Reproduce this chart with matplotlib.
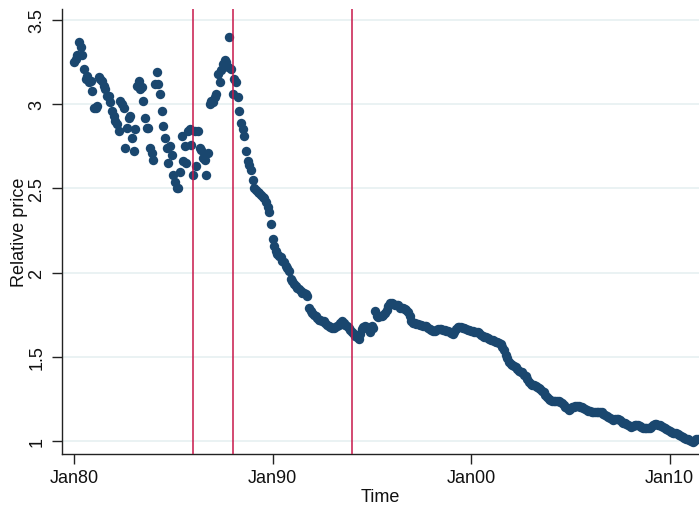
import numpy as np
import matplotlib
matplotlib.use("Agg")
import matplotlib.pyplot as plt

# Monthly relative price, Jan 1980 onwards
rel_price_1980s = [
    3.25, 3.27, 3.29, 3.37, 3.34, 3.29, 3.21, 3.15, 3.17, 3.13, 3.14, 3.08,
    2.98, 2.98, 2.99, 3.16, 3.15, 3.14, 3.11, 3.09, 3.05, 3.05, 3.01, 2.96,
    2.93, 2.90, 2.88, 2.84, 3.02, 3.00, 2.98, 2.74, 2.86, 2.92, 2.93, 2.80,
    2.72, 2.85, 3.11, 3.14, 3.09, 3.10, 3.02, 2.92, 2.86, 2.86, 2.74, 2.71,
    2.67, 3.12, 3.19, 3.12, 3.06, 2.96, 2.87, 2.80, 2.74, 2.65, 2.75, 2.70,
    2.58, 2.54, 2.50, 2.50, 2.60, 2.81, 2.66, 2.75, 2.65, 2.84, 2.85, 2.76,
    2.58, 2.84, 2.63, 2.84, 2.74, 2.73, 2.68, 2.67, 2.58, 2.71, 3.00, 3.02,
    3.01, 3.04, 3.06, 3.18, 3.13, 3.20, 3.24, 3.26, 3.25, 3.22, 3.40, 3.21,
    3.06, 3.15, 3.13, 3.04, 2.96, 2.89, 2.85, 2.81, 2.72, 2.66, 2.64, 2.61,
    2.55, 2.50, 2.49, 2.48, 2.47, 2.46, 2.45, 2.44, 2.42, 2.39, 2.36, 2.29,
]
rel_price_1990s = [
    2.20, 2.16, 2.13, 2.11, 2.10, 2.09, 2.07, 2.06, 2.04, 2.03, 2.01, 1.96,
    1.95, 1.93, 1.92, 1.91, 1.90, 1.89, 1.88, 1.88, 1.87, 1.86, 1.79, 1.77,
    1.76, 1.75, 1.74, 1.73, 1.72, 1.72, 1.71, 1.71, 1.70, 1.69, 1.68, 1.675,
    1.67, 1.67, 1.675, 1.68, 1.69, 1.70, 1.71, 1.70, 1.69, 1.685, 1.67, 1.66,
    1.645, 1.635, 1.625, 1.615, 1.605, 1.635, 1.665, 1.675, 1.68, 1.675, 1.67, 1.645,
    1.68, 1.67, 1.77, 1.74, 1.735, 1.74, 1.745, 1.75, 1.76, 1.78, 1.80, 1.82,
    1.82, 1.815, 1.81, 1.81, 1.805, 1.79, 1.79, 1.79, 1.785, 1.78, 1.765, 1.745,
    1.715, 1.70, 1.70, 1.695, 1.695, 1.69, 1.69, 1.685, 1.685, 1.68, 1.67, 1.665,
    1.66, 1.655, 1.655, 1.66, 1.665, 1.665, 1.665, 1.66, 1.66, 1.655, 1.655, 1.65,
    1.64, 1.635, 1.645, 1.665, 1.675, 1.675, 1.675, 1.67, 1.67, 1.665, 1.66, 1.66,
]
rel_price_2000s = [
    1.655, 1.655, 1.65, 1.645, 1.645, 1.64, 1.63, 1.625, 1.62, 1.615, 1.61, 1.605,
    1.60, 1.60, 1.595, 1.59, 1.585, 1.58, 1.575, 1.56, 1.54, 1.51, 1.49, 1.47,
    1.46, 1.45, 1.445, 1.44, 1.425, 1.415, 1.41, 1.41, 1.39, 1.385, 1.37, 1.35,
    1.34, 1.335, 1.33, 1.325, 1.32, 1.315, 1.31, 1.30, 1.29, 1.275, 1.26, 1.25,
    1.245, 1.24, 1.24, 1.24, 1.235, 1.235, 1.23, 1.225, 1.215, 1.205, 1.195, 1.185,
    1.19, 1.20, 1.205, 1.21, 1.21, 1.21, 1.205, 1.20, 1.195, 1.19, 1.185, 1.18,
    1.18, 1.175, 1.175, 1.17, 1.17, 1.175, 1.175, 1.17, 1.16, 1.155, 1.15, 1.145,
    1.135, 1.13, 1.125, 1.13, 1.13, 1.13, 1.125, 1.115, 1.11, 1.105, 1.10, 1.095,
    1.09, 1.085, 1.09, 1.095, 1.095, 1.095, 1.09, 1.085, 1.08, 1.08, 1.08, 1.08,
    1.08, 1.085, 1.095, 1.10, 1.10, 1.095, 1.095, 1.09, 1.085, 1.075, 1.07, 1.065,
]
rel_price_2010s = [
    1.06, 1.055, 1.05, 1.05, 1.045, 1.04, 1.035, 1.03, 1.025, 1.02, 1.015, 1.01,
    1.005, 1.00, 0.995, 1.00, 1.01, 1.015,
]

start_year = 1980
event_dates = [1986.0, 1988.0, 1994.0]          # Jan86, Jan88, Jan94
x_tick_years = [1980, 1990, 2000, 2010]
x_tick_labels = ["Jan80", "Jan90", "Jan00", "Jan10"]
y_ticks = [1, 1.5, 2, 2.5, 3, 3.5]
y_tick_labels = ["1", "1.5", "2", "2.5", "3", "3.5"]

price = np.array(rel_price_1980s + rel_price_1990s + rel_price_2000s + rel_price_2010s)
time = start_year + np.arange(len(price)) / 12.0

plt.rcParams["font.family"] = ["Liberation Sans", "DejaVu Sans"]

W, H = 699, 506
fig = plt.figure(figsize=(W / 100, H / 100), dpi=100)
left, right, top, bottom = 62, 699, 10, 455
ax = fig.add_axes([left / W, 1 - bottom / H, (right - left) / W, (bottom - top) / H])

ax.scatter(time, price, s=46, color="#1a476f", linewidths=0, zorder=3, clip_on=False)
for d in event_dates:
    ax.axvline(d, color="#c8174a", lw=1.1, zorder=4)

ax.set_xlim(1979.395, 2011.486)
ax.set_ylim(0.923, 3.565)

ax.set_xticks(x_tick_years)
ax.set_xticklabels(x_tick_labels)
ax.set_yticks(y_ticks)
ax.set_yticklabels(y_tick_labels, rotation=90, va="center")

ax.grid(axis="y", color="#eaf2f3", lw=1.4, zorder=0)
ax.set_axisbelow(True)

for side in ("top", "right"):
    ax.spines[side].set_visible(False)
for side in ("left", "bottom"):
    ax.spines[side].set_color("#222222")
    ax.spines[side].set_linewidth(1.0)

ax.tick_params(axis="both", direction="out", length=7, width=1.0, color="#222222",
               labelsize=13, labelcolor="#111111")
ax.tick_params(axis="x", pad=4)
ax.tick_params(axis="y", pad=5)

ax.set_xlabel("Time", fontsize=13, labelpad=1, color="#111111")
ax.set_ylabel("Relative price", fontsize=13, labelpad=0.5, color="#111111")

fig.savefig("out.png", dpi=100)
